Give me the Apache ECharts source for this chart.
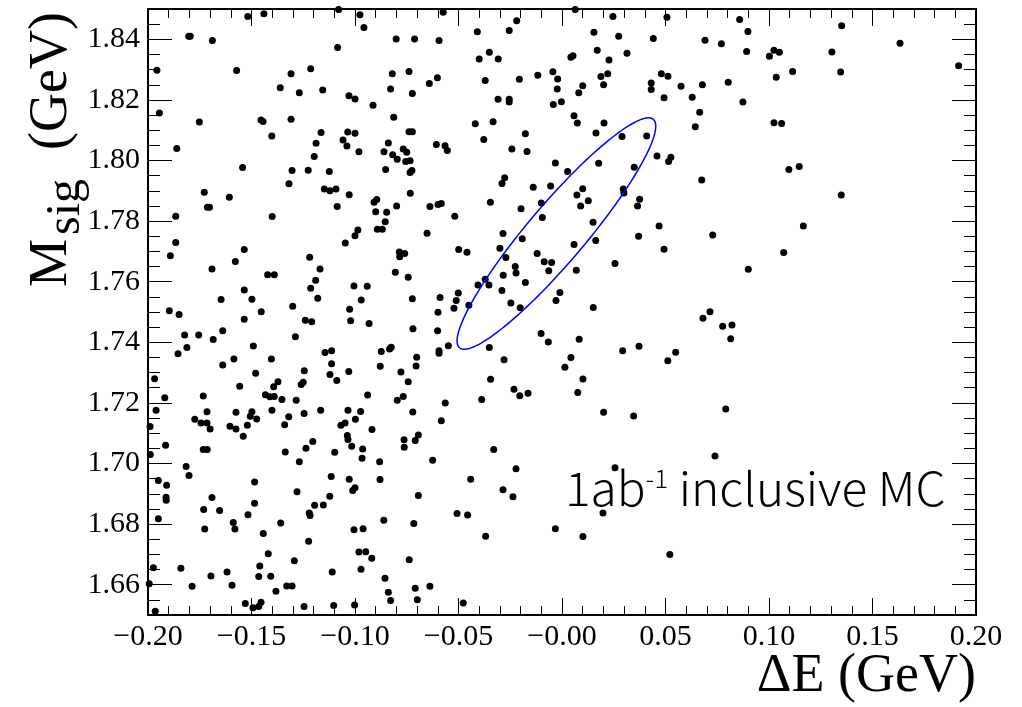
<!DOCTYPE html>
<html><head><meta charset="utf-8">
<script src="https://cdn.jsdelivr.net/npm/echarts@6/dist/echarts.min.js"></script>
<style>html,body{margin:0;padding:0;background:#fff}#chart{width:1022px;height:707px}</style>
</head><body><div id="chart"></div>
<script>
const xRange = [-0.2, 0.2];
const yRange = [1.65, 1.85];
const xTickLabels = ['\u22120.20','\u22120.15','\u22120.10','\u22120.05','\u22120.00','0.05','0.10','0.15','0.20'];
const yMajorTicks = [1.66,1.68,1.70,1.72,1.74,1.76,1.78,1.80,1.82,1.84];
const yTickLabels = ['1.66','1.68','1.70','1.72','1.74','1.76','1.78','1.80','1.82','1.84'];
const xAxisTitle = '\u0394E (GeV)';
const yAxisTitle = ['M', 'sig', '(GeV)'];
const annotation = ['1ab', '-1', ' inclusive MC'];
// signal-region ellipse: centre and two semi-axis vectors (data units)
const ellipseCenter = [-0.0027, 1.7759];
const ellipseMajor = [0.0468, 0.0377];
const ellipseMinor = [0.0106, -0.0061];
// events: [Delta E (GeV), M_sig (GeV)]
const events = [
[-0.1518,1.8475],[-0.1440,1.8484],[-0.1079,1.8498],[-0.1803,1.8410],[-0.1796,1.8410],[-0.1689,1.8396],[-0.1084,1.8373],[-0.1957,1.8298],[-0.1572,1.8297],[-0.1309,1.8286],
[-0.1214,1.8303],[-0.1361,1.8240],[-0.1269,1.8224],[-0.1156,1.8233],[-0.1029,1.8214],[-0.1000,1.8203],[-0.1945,1.8157],[-0.1752,1.8127],[-0.1454,1.8134],[-0.1444,1.8129],
[-0.1309,1.8136],[-0.1402,1.8081],[-0.1164,1.8092],[-0.1035,1.8094],[-0.1000,1.8090],[-0.1058,1.8068],[-0.1188,1.8057],[-0.1039,1.8048],[-0.1861,1.8040],[-0.1197,1.8013],
[-0.1543,1.7977],[-0.1304,1.7967],[-0.1226,1.7968],[-0.1124,1.7964],[-0.1319,1.7923],[-0.1148,1.7906],[-0.1121,1.7900],[-0.1092,1.7906],[-0.1028,1.7887],[-0.1728,1.7895],
[-0.1607,1.7879],[-0.1713,1.7846],[-0.1703,1.7846],[-0.1086,1.7848],
[-0.0976,1.8481],[-0.0957,1.8439],[-0.0574,1.8489],[-0.0801,1.8401],[-0.0712,1.8401],[-0.0594,1.8396],[-0.0409,1.8425],[-0.0255,1.8429],[-0.0219,1.8461],[-0.0351,1.8357],
[-0.0400,1.8335],[-0.0308,1.8335],[-0.0820,1.8286],[-0.0739,1.8294],[-0.0828,1.8236],[-0.0723,1.8221],[-0.0641,1.8254],[-0.0602,1.8273],[-0.0371,1.8264],[-0.0206,1.8268],
[-0.0117,1.8281],[-0.0044,1.8293],[-0.0021,1.8269],[-0.0023,1.8236],[-0.0042,1.8185],[-0.0003,1.8194],[-0.0913,1.8182],[-0.0309,1.8202],[-0.0255,1.8202],[-0.0255,1.8193],
[-0.0813,1.8143],[-0.0419,1.8121],[-0.0333,1.8128],[-0.0739,1.8095],[-0.0723,1.8095],[-0.0177,1.8088],[-0.0378,1.8069],[-0.0839,1.8058],[-0.0981,1.8029],[-0.0860,1.8029],
[-0.0818,1.8019],[-0.0767,1.8038],[-0.0750,1.8027],[-0.0796,1.8004],[-0.0755,1.7997],[-0.0734,1.7999],[-0.0607,1.8053],[-0.0565,1.8049],[-0.0554,1.8033],[-0.0242,1.8038],
[-0.0169,1.8030],[-0.0032,1.7992],[-0.0852,1.7970],[-0.0734,1.7960],[-0.0725,1.7967],[-0.0277,1.7943],[-0.0290,1.7924],[-0.0139,1.7912],[-0.0055,1.7916],[-0.0733,1.7892],
[-0.0908,1.7862],[-0.0895,1.7871],[-0.0799,1.7850],[-0.0638,1.7848],[-0.0599,1.7855],[-0.0583,1.7858],[-0.0346,1.7862],[-0.0198,1.7841],[-0.0100,1.7860],
[0.0064,1.8498],[0.0246,1.8475],[0.0507,1.8473],[0.0858,1.8465],[0.0898,1.8426],[0.0154,1.8423],[0.0274,1.8410],[0.0441,1.8403],[0.0691,1.8397],[0.0770,1.8385],
[0.0892,1.8360],[0.1002,1.8344],[0.0170,1.8364],[0.0043,1.8341],[0.0053,1.8346],[0.0314,1.8354],[0.0227,1.8332],[0.0188,1.8277],[0.0221,1.8286],[0.0100,1.8247],
[0.0201,1.8250],[0.0081,1.8224],[0.0480,1.8286],[0.0512,1.8278],[0.0431,1.8256],[0.0431,1.8234],[0.0575,1.8245],[0.0678,1.8250],[0.0803,1.8258],[0.0493,1.8207],
[0.0629,1.8209],[0.0874,1.8193],[0.0665,1.8159],[0.0058,1.8148],[0.0074,1.8124],[0.0203,1.8124],[0.0644,1.8111],[0.0164,1.8091],[0.0290,1.8079],[0.0409,1.8081],
[0.0459,1.8015],[0.0515,1.7997],[0.0526,1.8011],[0.0177,1.7991],[0.0349,1.7978],[0.0027,1.7964],[0.0675,1.7936],[0.0100,1.7907],[0.0072,1.7886],[0.0127,1.7867],
[0.0296,1.7906],[0.0299,1.7893],[0.0375,1.7872],[0.0090,1.7850],[0.0365,1.7850],
[0.1351,1.8445],[0.1633,1.8387],[0.1024,1.8364],[0.1050,1.8357],[0.1304,1.8358],[0.1114,1.8294],[0.1346,1.8292],[0.1035,1.8275],[0.1916,1.8313],[0.1024,1.8125],
[0.1061,1.8122],[0.1096,1.7970],[0.1146,1.7980],[0.1349,1.7886],
[-0.1866,1.7816],[-0.1400,1.7815],[-0.1866,1.7729],[-0.1892,1.7686],[-0.1535,1.7706],[-0.1578,1.7667],[-0.1691,1.7642],[-0.1047,1.7728],[-0.1000,1.7752],[-0.1219,1.7681],
[-0.1169,1.7642],[-0.1422,1.7623],[-0.1390,1.7623],[-0.1190,1.7605],[-0.1214,1.7578],[-0.1005,1.7586],[-0.1535,1.7573],[-0.1647,1.7541],[-0.1498,1.7542],[-0.1180,1.7545],
[-0.1301,1.7519],[-0.1453,1.7501],[-0.1897,1.7504],[-0.1850,1.7492],[-0.1026,1.7509],[-0.1535,1.7476],[-0.1240,1.7473],[-0.1209,1.7468],[-0.1021,1.7471],[-0.1823,1.7424],
[-0.1755,1.7424],[-0.1639,1.7438],[-0.1685,1.7409],[-0.1288,1.7418],[-0.1855,1.7362],[-0.1812,1.7383],[-0.1491,1.7388],[-0.1145,1.7366],[-0.1113,1.7372],[-0.1585,1.7345],
[-0.1404,1.7345],[-0.1639,1.7325],[-0.1113,1.7329],[-0.1245,1.7306],[-0.1480,1.7298],[-0.1121,1.7294],[-0.1030,1.7304],[-0.1968,1.7280],[-0.1088,1.7274],[-0.1557,1.7255],
[-0.1372,1.7270],[-0.1393,1.7253],[-0.1260,1.7261],[-0.1250,1.7268],[-0.1919,1.7217],[-0.1733,1.7223],[-0.1433,1.7227],[-0.1411,1.7220],[-0.1390,1.7221],[-0.1353,1.7211],
[-0.1284,1.7209],
[-0.0900,1.7831],[-0.0847,1.7829],[-0.0854,1.7798],[-0.0892,1.7773],[-0.0868,1.7773],[-0.0986,1.7771],[-0.0518,1.7816],[-0.0652,1.7760],[-0.0095,1.7812],[-0.0285,1.7759],
[-0.0192,1.7742],[-0.0786,1.7698],[-0.0760,1.7693],[-0.0784,1.7682],[-0.0499,1.7706],[-0.0459,1.7697],[-0.0300,1.7710],[-0.0271,1.7680],[-0.0120,1.7693],[-0.0086,1.7666],
[-0.0050,1.7663],[-0.0064,1.7636],[-0.0226,1.7650],[-0.0222,1.7629],[-0.0805,1.7631],[-0.0743,1.7615],[-0.0284,1.7621],[-0.0177,1.7597],[-0.0371,1.7608],[-0.0353,1.7589],
[-0.0406,1.7589],[-0.0941,1.7585],[-0.0290,1.7571],[-0.0970,1.7540],[-0.0723,1.7544],[-0.0589,1.7548],[-0.0501,1.7563],[-0.0511,1.7538],[-0.0522,1.7512],[-0.0450,1.7522],
[-0.0247,1.7530],[-0.0202,1.7514],[-0.0010,1.7564],[-0.0029,1.7538],[-0.0599,1.7499],[-0.0932,1.7462],[-0.0720,1.7445],[-0.0601,1.7438],[-0.0101,1.7429],[-0.0066,1.7401],
[-0.0873,1.7370],[-0.0833,1.7378],[-0.0825,1.7384],[-0.0594,1.7372],[-0.0594,1.7364],[-0.0549,1.7389],[-0.0351,1.7383],[-0.0702,1.7351],[-0.0878,1.7321],[-0.0705,1.7322],
[-0.0778,1.7302],[-0.0280,1.7342],[-0.0743,1.7270],[-0.0345,1.7278],[-0.0232,1.7245],[-0.0204,1.7224],[-0.0164,1.7232],[0.0014,1.7318],[-0.0939,1.7226],[-0.0796,1.7209],
[-0.0767,1.7221],[-0.0564,1.7200],[-0.0388,1.7211],
[0.0150,1.7796],[0.0058,1.7723],[0.0163,1.7736],[0.0370,1.7750],[0.0469,1.7784],[0.0493,1.7707],[0.0728,1.7754],[0.0069,1.7638],[0.0256,1.7660],[0.0900,1.7641],
[0.0151,1.7515],[0.0681,1.7479],[0.0715,1.7501],[0.0776,1.7453],[0.0821,1.7457],[0.0815,1.7412],[0.0083,1.7410],[0.0043,1.7350],[0.0293,1.7372],[0.0372,1.7387],
[0.0549,1.7367],[0.0511,1.7339],[0.0101,1.7279],[0.0076,1.7234],[0.0791,1.7180],
[0.1166,1.7784],[0.1071,1.7696],
[-0.1961,1.7176],[-0.1715,1.7171],[-0.1575,1.7169],[-0.1498,1.7171],[-0.1506,1.7156],[-0.1475,1.7147],[-0.1401,1.7176],[-0.1246,1.7165],[-0.1166,1.7176],[-0.1034,1.7176],
[-0.1990,1.7122],[-0.1774,1.7146],[-0.1744,1.7134],[-0.1715,1.7134],[-0.1700,1.7114],[-0.1604,1.7123],[-0.1575,1.7114],[-0.1520,1.7126],[-0.1540,1.7090],[-0.1340,1.7128],
[-0.1320,1.7154],[-0.1068,1.7126],[-0.1048,1.7134],[-0.0998,1.7146],[-0.1037,1.7092],[-0.1034,1.7079],[-0.1016,1.7057],[-0.1098,1.7037],[-0.1237,1.7050],[-0.1204,1.7073],
[-0.1337,1.7038],[-0.1269,1.7006],[-0.1989,1.7030],[-0.1915,1.7060],[-0.1733,1.7046],[-0.1714,1.7046],[-0.1816,1.6990],[-0.1802,1.6960],[-0.1950,1.6944],[-0.1910,1.6928],
[-0.1913,1.6889],[-0.1912,1.6879],[-0.1691,1.6888],[-0.1485,1.6939],[-0.1485,1.6869],[-0.1280,1.6907],[-0.1115,1.6957],[-0.1028,1.6948],[-0.1011,1.6911],[-0.1000,1.6920],
[-0.1122,1.6892],[-0.1153,1.6863],[-0.1195,1.6862],[-0.1221,1.6837],[-0.1217,1.6828],[-0.1731,1.6848],[-0.1654,1.6845],[-0.1950,1.6818],[-0.1517,1.6831],[-0.1588,1.6805],
[-0.1580,1.6784],[-0.1726,1.6784],[-0.1359,1.6804],[-0.1443,1.6769],[-0.1224,1.6743],[-0.1005,1.6781],[-0.1419,1.6702],[-0.1293,1.6679],[-0.1974,1.6656],[-0.1841,1.6654],
[-0.1460,1.6662],[-0.1618,1.6642],[-0.1696,1.6629],[-0.1465,1.6627],[-0.1407,1.6628],[-0.1110,1.6642],[-0.1994,1.6603],[-0.1787,1.6595],[-0.1594,1.6598],[-0.1330,1.6596],
[-0.1304,1.6596],[-0.1382,1.6578],[-0.1530,1.6538],[-0.1493,1.6524],[-0.1465,1.6528],[-0.1454,1.6542],[-0.1246,1.6528],[-0.1103,1.6531],[-0.1002,1.6533],[-0.1965,1.6512],
[-0.0973,1.7172],[-0.0721,1.7170],[-0.0583,1.7141],[-0.0918,1.7112],[-0.0763,1.7078],[-0.0762,1.7054],[-0.0709,1.7076],[-0.0694,1.7094],[-0.0963,1.7048],[-0.0966,1.7017],
[-0.0881,1.7006],[-0.0625,1.7011],[-0.0330,1.7046],[-0.0222,1.6983],[-0.0879,1.6947],[-0.0441,1.6948],[-0.0285,1.6913],[-0.0237,1.6890],[-0.0694,1.6894],[-0.0861,1.6813],
[-0.0716,1.6802],[-0.0507,1.6835],[-0.0456,1.6830],[-0.0961,1.6785],[-0.0032,1.6785],[-0.0369,1.6760],[-0.0981,1.6708],[-0.0948,1.6709],[-0.0919,1.6687],[-0.0738,1.6682],
[-0.0971,1.6651],[-0.0855,1.6621],[-0.0839,1.6575],[-0.0828,1.6548],[-0.0709,1.6588],[-0.0638,1.6595],[-0.0699,1.6550],[-0.0477,1.6540],
[0.0201,1.7169],[0.0346,1.7157],[0.0739,1.7025],[0.0256,1.6986],[0.0198,1.6837],[0.0101,1.6759],[0.0521,1.6700]
];

const chart = echarts.init(document.getElementById('chart'), null, {renderer: 'canvas'});
const serif = 'Liberation Serif';
const frame = {show: true, onZero: false, lineStyle: {color: '#000', width: 2}};
const noLine = {show: false, onZero: false};
const tickStyle = {color: '#000', width: 1};
function xLabel(v) {
  const k = Math.round((v - xRange[0]) / 0.05);
  return xTickLabels[k] !== undefined ? xTickLabels[k] : '';
}
function yLabel(v) {
  const k = (v - yMajorTicks[0]) / 0.02;
  const r = Math.round(k);
  return (Math.abs(k - r) < 1e-6 && r >= 0 && r < yTickLabels.length) ? yTickLabels[r] : '';
}
const gridRect = {left: 148, right: 46, top: 9, bottom: 92};

const option = {
  backgroundColor: '#fff',
  animation: false,
  grid: [Object.assign({}, gridRect), Object.assign({}, gridRect)],
  xAxis: [
    {type: 'value', gridIndex: 0, position: 'bottom', min: xRange[0], max: xRange[1], interval: 0.05,
     axisLine: frame, axisTick: {show: true, inside: true, length: 17, lineStyle: tickStyle},
     minorTick: {show: true, splitNumber: 5, length: 9, lineStyle: tickStyle},
     axisLabel: {show: true, margin: 7, fontFamily: serif, fontSize: 30, color: '#000', formatter: xLabel, showMinLabel: true, showMaxLabel: true},
     splitLine: {show: false}, minorSplitLine: {show: false}},
    {type: 'value', gridIndex: 0, position: 'top', min: xRange[0], max: xRange[1], interval: 0.05,
     axisLine: frame, axisTick: {show: true, inside: true, length: 17, lineStyle: tickStyle},
     minorTick: {show: true, splitNumber: 5, length: 9, lineStyle: tickStyle},
     axisLabel: {show: false}, splitLine: {show: false}, minorSplitLine: {show: false}},
    {type: 'value', gridIndex: 1, show: false, min: xRange[0], max: xRange[1], axisLine: noLine}
  ],
  yAxis: [
    {type: 'value', gridIndex: 0, position: 'left', min: yRange[0], max: yRange[1], interval: 0.005,
     axisLine: frame, axisTick: {show: true, inside: true, length: 12, lineStyle: tickStyle},
     axisLabel: {show: true, margin: 8, fontFamily: serif, fontSize: 30, color: '#000', formatter: yLabel},
     splitLine: {show: false}},
    {type: 'value', gridIndex: 0, position: 'right', min: yRange[0], max: yRange[1], interval: 0.005,
     axisLine: frame, axisTick: {show: true, inside: true, length: 12, lineStyle: tickStyle},
     axisLabel: {show: false}, splitLine: {show: false}},
    {type: 'value', gridIndex: 1, position: 'left', min: yRange[0], max: yRange[1],
     axisLine: noLine, axisTick: {show: true, inside: true, length: 24, lineStyle: tickStyle, customValues: yMajorTicks},
     axisLabel: {show: false}, splitLine: {show: false}},
    {type: 'value', gridIndex: 1, position: 'right', min: yRange[0], max: yRange[1],
     axisLine: noLine, axisTick: {show: true, inside: true, length: 24, lineStyle: tickStyle, customValues: yMajorTicks},
     axisLabel: {show: false}, splitLine: {show: false}}
  ],
  series: [
    {type: 'scatter', xAxisIndex: 0, yAxisIndex: 0, data: events, symbol: 'circle', symbolSize: 7,
     itemStyle: {color: '#000', opacity: 1}, silent: true, z: 3},
    {type: 'custom', xAxisIndex: 0, yAxisIndex: 0, data: [ellipseCenter], silent: true, z: 4,
     renderItem: function (params, api) {
       const pts = [];
       const n = 180;
       for (let i = 0; i <= n; i++) {
         const t = i / n * 2 * Math.PI;
         const c = Math.cos(t), s = Math.sin(t);
         pts.push(api.coord([
           ellipseCenter[0] + ellipseMajor[0] * c + ellipseMinor[0] * s,
           ellipseCenter[1] + ellipseMajor[1] * c + ellipseMinor[1] * s
         ]));
       }
       return {type: 'polyline', shape: {points: pts}, style: {stroke: '#0000ff', fill: null, lineWidth: 1.5}};
     }}
  ],
  graphic: [
    {type: 'text', x: 976, y: 677, z: 10,
     style: {text: xAxisTitle, align: 'right', verticalAlign: 'middle', fontFamily: serif, fontSize: 54, fill: '#000'}},
    {type: 'group', x: 52, y: 287, rotation: Math.PI / 2, z: 10, children: [
      {type: 'text', x: 0, y: 0, style: {text: yAxisTitle[0], align: 'left', verticalAlign: 'middle', fontFamily: serif, fontSize: 54, fill: '#000'}},
      {type: 'text', x: 52, y: 14, style: {text: yAxisTitle[1], align: 'left', verticalAlign: 'middle', fontFamily: serif, fontSize: 48, fill: '#000'}},
      {type: 'text', x: 137, y: 0, style: {text: yAxisTitle[2], align: 'left', verticalAlign: 'middle', fontFamily: serif, fontSize: 54, fill: '#000'}}
    ]},
    {type: 'text', x: 565, y: 466, scaleX: 1.04, z: 10,
     style: {text: '{n|' + annotation[0] + '}{p|' + annotation[1] + '}{n|' + annotation[2] + '}',
       align: 'left', verticalAlign: 'top', fill: '#000',
       rich: {
         n: {fontFamily: 'Noto Sans CJK SC', fontWeight: 300, fontSize: 46, lineHeight: 50, verticalAlign: 'top', fill: '#000'},
         p: {fontFamily: 'Noto Sans CJK SC', fontWeight: 300, fontSize: 25, lineHeight: 40, verticalAlign: 'top', fill: '#000'}
       }}}
  ]
};
chart.setOption(option);
</script>
</body></html>
